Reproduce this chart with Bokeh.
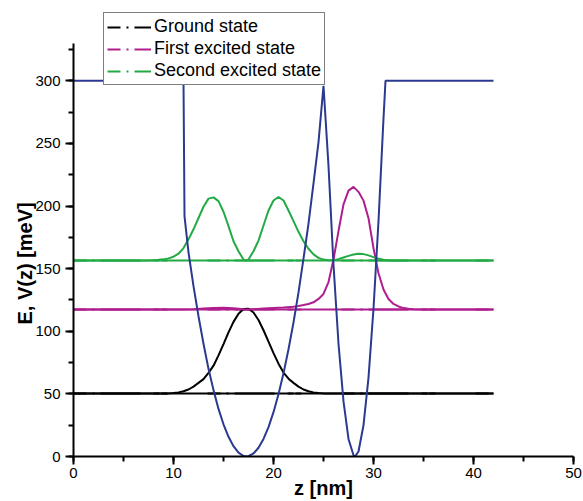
from bokeh.plotting import figure
from bokeh.models import Range1d, SingleIntervalTicker, Legend, LegendItem, Title
from bokeh.embed import file_html
from bokeh.resources import INLINE

# ---------------- data ----------------
# Potential profile V(z) [meV]
z_pot = [0, 11.0, 11.1, 11.5, 12.0, 12.5, 13.0, 13.5, 14.0, 14.5, 15.0, 15.5, 16.0,
         16.5, 17.0, 17.3, 17.5, 18.0, 18.5, 19.0, 19.5, 20.0, 20.5, 21.0, 21.5,
         22.0, 22.5, 23.0, 23.5, 24.0, 24.5, 25.0, 25.5, 26.0, 26.5, 27.0, 27.5,
         28.0, 28.15, 28.5, 29.0, 29.5, 30.0, 30.5, 31.0, 31.2, 42.0]
v_pot = [300, 300, 192, 163, 136, 112, 90, 70, 53, 38, 25.7, 15.7, 8.2,
         3.1, 0.4, 0, 0.2, 2.4, 7.0, 14, 23.5, 35.4, 49.7, 66.4, 85.6,
         107, 131, 158, 186, 218, 251, 296, 232, 153, 90, 44, 14,
         1, 0, 4, 25, 63, 118, 188, 270, 300, 300]

# Energy levels [meV]
levels = [50.3, 117.3, 156.4]
z_level = [0, 42]

# Ground state |psi|^2 shifted to its level
z_gs = [0, 9.0, 9.5, 10.0, 10.5, 11.0, 11.5, 12.0, 12.5, 13.0, 13.5, 14.0, 14.5,
        15.0, 15.5, 16.0, 16.5, 17.0, 17.5, 18.0, 18.5, 19.0, 19.5, 20.0, 20.5,
        21.0, 21.5, 22.0, 22.5, 23.0, 23.5, 24.0, 24.5, 25.0, 26.0, 42.0]
e_gs = [50.3, 50.3, 50.4, 50.7, 51.2, 52.1, 53.5, 55.8, 58.8, 61.8, 66.8, 72.5, 80.7,
        89.8, 99.1, 107.5, 114.0, 117.7, 118.0, 115.0, 109.0, 100.8, 91.7, 82.5, 74.1,
        67.0, 62.1, 58.8, 55.8, 53.5, 52.1, 51.2, 50.7, 50.4, 50.3, 50.3]

# First excited state
z_e1 = [0, 11.0, 12.0, 13.0, 14.0, 15.0, 16.0, 17.0, 17.5, 18.0, 19.0, 20.0, 21.0,
        22.0, 22.5, 23.0, 23.5, 24.0, 24.5, 25.0, 25.5, 26.0, 26.5, 27.0, 27.5,
        28.0, 28.5, 29.0, 29.5, 30.0, 30.5, 31.0, 31.5, 32.0, 32.5, 33.0, 33.5,
        34.0, 35.0, 42.0]
e_e1 = [117.3, 117.3, 117.6, 118.1, 118.6, 118.8, 118.3, 117.6, 117.4, 117.6, 118.1, 118.5, 118.9,
        119.5, 120.1, 120.9, 121.8, 123.1, 125.8, 129.8, 139.3, 157.3, 180.0, 201.3, 212.3,
        215.3, 211.3, 204.3, 190.3, 166.3, 146.3, 133.3, 125.8, 121.8, 119.8, 118.5, 117.9,
        117.6, 117.3, 117.3]

# Second excited state
z_e2 = [0, 7.5, 8.0, 8.5, 9.0, 9.5, 10.0, 10.5, 11.0, 11.5, 12.0, 12.5, 13.0, 13.5,
        14.0, 14.5, 15.0, 15.5, 16.0, 16.5, 17.0, 17.25, 17.5, 18.0, 18.5, 19.0,
        19.5, 20.0, 20.5, 21.0, 21.5, 22.0, 22.5, 23.0, 23.5, 24.0, 24.5, 25.0,
        25.5, 26.0, 26.5, 27.0, 27.5, 28.0, 28.5, 29.0, 29.5, 30.0, 30.5, 31.0,
        31.5, 32.0, 33.0, 42.0]
e_e2 = [156.4, 156.4, 156.7, 157.0, 157.4, 158.2, 159.5, 161.9, 166.4, 173.4, 181.4, 190.4, 199.4, 205.9,
        206.9, 203.9, 195.4, 183.9, 171.9, 163.9, 157.2, 156.4, 157.3, 163.9, 172.4, 184.4,
        196.4, 204.4, 207.2, 204.4, 196.4, 187.9, 179.4, 171.9, 165.9, 161.4, 158.6, 157.2,
        156.6, 156.7, 157.6, 158.9, 160.2, 161.3, 161.9, 161.6, 160.6, 159.2, 157.9, 157.1,
        156.7, 156.5, 156.4, 156.4]

labels = ["Ground state", "First excited state", "Second excited state"]
colors = ["#000000", "#B01E8E", "#22AA44"]
pot_color = "#2B3990"
x_title = "z [nm]"
y_title = "E, V(z) [meV]"

# ---------------- figure ----------------
p = figure(width=583, height=501, output_backend="svg", toolbar_location=None,
           x_range=Range1d(0, 50), y_range=Range1d(0, 354.5),
           min_border_left=73, min_border_right=10, min_border_top=12,
           min_border_bottom=45)
p.grid.visible = False
p.outline_line_color = None
p.background_fill_color = "white"
p.border_fill_color = "white"

for ax in (p.xaxis[0], p.yaxis[0]):
    ax.axis_line_width = 2
    ax.major_tick_line_width = 2
    ax.minor_tick_line_width = 2
    ax.major_tick_out = 8
    ax.major_tick_in = 0
    ax.minor_tick_out = 5
    ax.minor_tick_in = 0
    ax.major_label_text_font = "Liberation Sans"
    ax.major_label_text_font_size = "15px"
    ax.major_label_text_color = "black"
    ax.axis_label_text_font = "Liberation Sans"
    ax.axis_label_text_font_style = "bold"
    ax.axis_label_text_font_size = "20px"
    ax.axis_label_text_color = "black"

p.xaxis.ticker = SingleIntervalTicker(interval=10, num_minor_ticks=2)
p.yaxis.ticker = SingleIntervalTicker(interval=50, num_minor_ticks=2)
p.yaxis.bounds = (0, 330)
p.xaxis.axis_label = x_title
p.xaxis.major_label_standoff = 3
p.xaxis.axis_label_standoff = -4
p.yaxis.major_label_standoff = 5

# y title in the left panel, shifted down like the original
p.add_layout(Title(text=y_title, align="left", offset=132, vertical_align="bottom",
                   standoff=-6, text_font="Liberation Sans", text_font_style="bold",
                   text_font_size="20px", text_color="black"), "left")

# energy levels drawn dash-dot (legend glyphs), hidden under solid curves
legend_renderers = []
for lv, c in zip(levels, colors):
    r = p.line(z_level, [lv, lv], line_color=c, line_width=2, line_dash="13 6 2 6 40")
    legend_renderers.append(r)
for lv, c in zip(levels, colors):
    p.line(z_level, [lv, lv], line_color=c, line_width=2)

p.line(z_gs, e_gs, line_color=colors[0], line_width=2)
p.line(z_e1, e_e1, line_color=colors[1], line_width=2)
p.line(z_e2, e_e2, line_color=colors[2], line_width=2)

p.line(z_pot, v_pot, line_color=pot_color, line_width=2)

legend = Legend(items=[LegendItem(label=lab, renderers=[r])
                       for lab, r in zip(labels, legend_renderers)],
                location=(30, 371))
legend.label_text_font = "Liberation Sans"
legend.label_text_font_size = "18px"
legend.label_text_color = "black"
legend.glyph_width = 44
legend.glyph_height = 20
legend.label_height = 20
legend.label_standoff = 3
legend.padding = 3
legend.spacing = 1
legend.margin = 0
legend.border_line_color = "black"
legend.border_line_width = 1.5
legend.background_fill_color = "white"
legend.background_fill_alpha = 1
p.add_layout(legend)

open("out.html", "w").write(file_html(p, INLINE))
